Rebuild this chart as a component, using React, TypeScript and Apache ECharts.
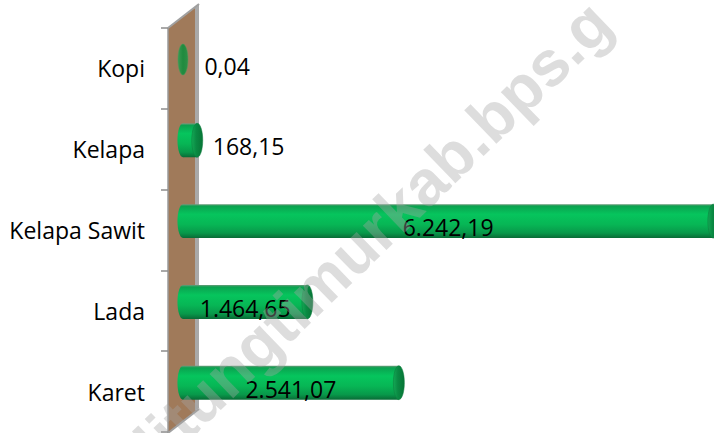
import React, { useEffect, useRef } from "react";
import * as echarts from "echarts";

const categories = ["Kopi", "Kelapa", "Kelapa Sawit", "Lada", "Karet"];
const values = [0.04, 168.15, 6242.19, 1464.65, 2541.07];
const valueLabels = ["0,04", "168,15", "6.242,19", "1.464,65", "2.541,07"];
const watermarkText = "belitungtimurkab.bps.g";

const FONT = '"Open Sans", "Noto Sans", sans-serif';

export default function App() {
  const ref = useRef<HTMLDivElement>(null);

  useEffect(() => {
    if (!ref.current) return;
    const chart = echarts.init(ref.current, null, { renderer: "svg" });

    const bodyGradient = new echarts.graphic.LinearGradient(0, 0, 0, 1, [
      { offset: 0, color: "#6f9a7d" },
      { offset: 0.06, color: "#0aa24f" },
      { offset: 0.3, color: "#06c55d" },
      { offset: 0.6, color: "#07b655" },
      { offset: 0.85, color: "#08984a" },
      { offset: 1, color: "#096b36" },
    ]);
    const capGradient = new echarts.graphic.LinearGradient(0, 0, 1, 0, [
      { offset: 0, color: "#14a855" },
      { offset: 0.4, color: "#0a8a43" },
      { offset: 1, color: "#077536" },
    ]);
    const tinyGradient = new echarts.graphic.LinearGradient(0, 0, 1, 0, [
      { offset: 0, color: "#3a9a52" },
      { offset: 0.5, color: "#1f8a3e" },
      { offset: 1, color: "#2f8f47" },
    ]);

    const renderItem = (params: any, api: any) => {
      const v = api.value(0);
      const ci = api.value(1);
      const p0 = api.coord([0, ci]);
      const p1 = api.coord([v, ci]);
      const band = api.size([0, 1])[1];
      const h = band * 0.42;
      const cy = p0[1] - band * 0.11;
      const rx = 5.5;
      const len = p1[0] - p0[0];
      const idx = params.dataIndex;
      const inside = len > 100;
      const tiny = len < 2;
      const children: any[] = [];
      if (!tiny) {
        children.push(
          {
            type: "ellipse",
            shape: { cx: p0[0], cy, rx, ry: h / 2 },
            style: { fill: bodyGradient },
          },
          {
            type: "rect",
            shape: { x: p0[0], y: cy - h / 2, width: len, height: h },
            style: { fill: bodyGradient },
          }
        );
      }
      children.push(
        {
          type: "ellipse",
          shape: { cx: p1[0], cy, rx: tiny ? 5 : rx, ry: h / 2 - (tiny ? 1.5 : 0) },
          style: tiny
            ? { fill: tinyGradient, stroke: "#4a9d5c", lineWidth: 0.5 }
            : { fill: capGradient, stroke: "#0d7a3d", lineWidth: 0.5 },
        },
        {
          type: "text",
          x: inside ? (p0[0] + p1[0]) / 2 : p1[0] + rx + (tiny ? 16 : 10),
          y: cy + 6,
          style: {
            text: valueLabels[idx],
            font: `23px ${FONT}`,
            fill: "#000",
            textAlign: inside ? "center" : "left",
            textVerticalAlign: "middle",
          },
          z2: 10,
        }
      );
      return { type: "group", children };
    };

    chart.setOption({
      animation: false,
      backgroundColor: "#ffffff",
      grid: { left: 168, right: 0, top: 28, bottom: 1 },
      xAxis: {
        type: "value",
        min: -176,
        max: 6250,
        show: false,
        splitLine: { show: false },
      },
      yAxis: {
        type: "category",
        data: categories,
        inverse: true,
        axisLine: { show: false, onZero: false },
        axisTick: { show: true, length: 7, lineStyle: { color: "#8c8c8c", width: 1.5 } },
        axisLabel: { color: "#000", fontSize: 23, fontFamily: FONT, margin: 23 },
        splitLine: { show: false },
      },
      graphic: [
        {
          type: "polygon",
          z: -5,
          shape: { points: [[168, 28], [196, 7], [196, 411], [168, 433]] },
          style: { fill: "#a07a5a" },
        },
        {
          type: "polygon",
          z: -4,
          shape: { points: [[195, 7], [199, 4], [199, 408], [195, 411]] },
          style: { fill: "#a9a9a9" },
        },
        {
          type: "line",
          z: -4,
          shape: { x1: 168, y1: 28, x2: 199, y2: 4 },
          style: { stroke: "#a0a0a0", lineWidth: 2 },
        },
        {
          type: "line",
          z: -4,
          shape: { x1: 168, y1: 433, x2: 199, y2: 409 },
          style: { stroke: "#a0a0a0", lineWidth: 2 },
        },
        {
          type: "line",
          z: -4,
          shape: { x1: 168, y1: 28, x2: 168, y2: 433 },
          style: { stroke: "#9a9a9a", lineWidth: 1.5 },
        },
        {
          type: "text",
          x: 92,
          y: 504,
          rotation: 0.768,
          z: 100,
          silent: true,
          style: {
            text: watermarkText,
            font: 'bold 64px "Liberation Sans", Arial, sans-serif',
            fill: "rgba(165,165,165,0.38)",
            textAlign: "left",
            textVerticalAlign: "middle",
          },
        },
      ],
      series: [
        {
          type: "custom",
          renderItem,
          clip: false,
          encode: { x: 0, y: 1 },
          data: values.map((v, i) => [v, i]),
        },
      ],
    });

    return () => chart.dispose();
  }, []);

  return (
    <div
      ref={ref}
      style={{ position: "fixed", left: 0, top: 0, width: 714, height: 433 }}
    />
  );
}
